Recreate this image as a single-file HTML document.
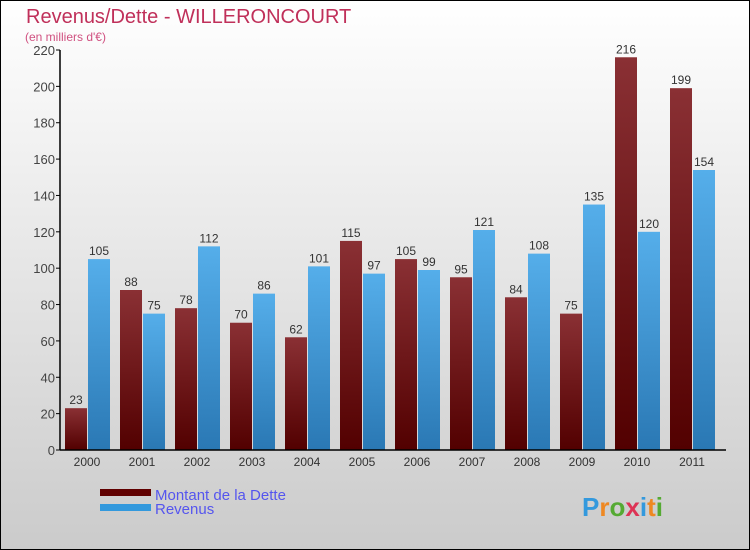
<!DOCTYPE html>
<html><head><meta charset="utf-8"><style>
body{margin:0}
svg{display:block;font-family:"Liberation Sans",sans-serif}
</style></head><body>
<svg width="750" height="550" viewBox="0 0 750 550">
<defs>
<linearGradient id="bg" x1="0" y1="0" x2="0" y2="1"><stop offset="0" stop-color="#ffffff"/><stop offset="1" stop-color="#cbcbcb"/></linearGradient>
<linearGradient id="gd" x1="0" y1="0" x2="0" y2="1"><stop offset="0" stop-color="#8a3034"/><stop offset="1" stop-color="#520000"/></linearGradient>
<linearGradient id="gr" x1="0" y1="0" x2="0" y2="1"><stop offset="0" stop-color="#55aeea"/><stop offset="1" stop-color="#2a78b4"/></linearGradient>
</defs>
<rect x="0.5" y="0.5" width="749" height="549" fill="url(#bg)" stroke="#000"/>
<text x="26" y="23" font-size="20" fill="#c0305a">Revenus/Dette - WILLERONCOURT</text>
<text x="25" y="41" font-size="12" fill="#d05080">(en milliers d'€)</text>
<g id="plot"></g>
<g>
<rect x="100" y="489" width="51" height="7" fill="#600000"/>
<text x="155" y="500" font-size="15" fill="#5555ee">Montant de la Dette</text>
<rect x="100" y="504" width="51" height="7" fill="#3399dd"/>
<text x="155" y="514" font-size="15" fill="#5555ee">Revenus</text>
</g>
<g font-size="26" font-weight="bold">
<text x="582" y="516" fill="#3399dd">P<tspan fill="#ee8822">r</tspan><tspan fill="#55aa33">o</tspan><tspan fill="#dd3355">x</tspan><tspan fill="#3399dd">i</tspan><tspan fill="#ee8822">t</tspan><tspan fill="#55aa33">i</tspan></text>
</g>
</svg>
<script>
const years=["2000","2001","2002","2003","2004","2005","2006","2007","2008","2009","2010","2011"];
const dette=[23,88,78,70,62,115,105,95,84,75,216,199];
const revenus=[105,75,112,86,101,97,99,121,108,135,120,154];
const ticks=[0,20,40,60,80,100,120,140,160,180,200,220];
const NS="http://www.w3.org/2000/svg";
const g=document.getElementById('plot');
const y0=450,x0=60,ppu=400/220;
const yv=v=>y0-v*ppu;
const gx=i=>65+55*i;
function mk(t,a){const e=document.createElementNS(NS,t);for(const k in a)e.setAttribute(k,a[k]);g.appendChild(e);return e;}
ticks.forEach(t=>{
 const l=mk('line',{x1:x0-4,x2:x0,y1:yv(t),y2:yv(t),stroke:'#000'});
 
 
 const tx=mk('text',{x:x0-5,y:yv(t)+5,'text-anchor':'end','font-size':13,fill:'#444'});
 tx.textContent=t;
 
 
});
years.forEach((yr,i)=>{
 const x=gx(i);
 [[dette[i],'url(#gd)','bar-dette',x],[revenus[i],'url(#gr)','bar-revenus',x+23]].forEach(([v,f,n,bx])=>{
  const r=mk('rect',{x:bx,y:yv(v),width:22,height:v*ppu,fill:f});
  
  
  const t=mk('text',{x:bx+11,y:yv(v)-4,'text-anchor':'middle','font-size':12,fill:'#333'});
  t.textContent=v;
  
  
 });
 const t=mk('text',{x:x+22,y:y0+16,'text-anchor':'middle','font-size':12,fill:'#333'});
 t.textContent=yr;
 
 
});
const ax=mk('line',{x1:x0,x2:x0,y1:yv(220),y2:y0,stroke:'#000','stroke-width':1.5});


const bx=mk('line',{x1:x0,x2:726,y1:y0,y2:y0,stroke:'#000','stroke-width':1.5});


</script>
</body></html>
